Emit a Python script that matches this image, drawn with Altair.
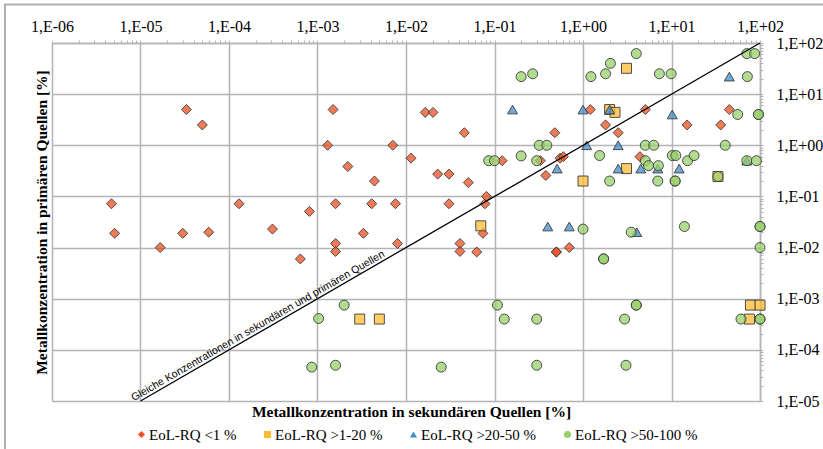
import altair as alt
import pandas as pd

cats = ["EoL-RQ <1 %", "EoL-RQ >1-20 %", "EoL-RQ >20-50 %", "EoL-RQ >50-100 %"]
cat_colors = ["#EE4F1F", "#FFBB33", "#408BCB", "#98D06B"]
cat_shapes = ["diamond", "square", "triangle-up", "circle"]

# EoL-RQ <1 %
dia_x = [4.7e-6, 5.1e-6, 1.67e-5, 3.0e-5, 3.3e-5, 5.0e-5, 5.9e-5, 1.3e-4, 3.1e-4, 6.4e-4,
         8.1e-4, 1.3e-3, 1.5e-3, 1.6e-3, 1.6e-3, 1.6e-3, 2.2e-3, 3.3e-3, 4.1e-3, 4.4e-3,
         7.1e-3, 7.6e-3, 8.0e-3, 0.0114, 0.0165, 0.0202, 0.0228, 0.0306, 0.0306, 0.0407,
         0.0407, 0.0456, 0.0506, 0.063, 0.074, 0.078, 0.081, 0.122, 0.33, 0.38,
         0.48, 0.55, 0.60, 0.50, 0.50, 0.70, 1.21, 1.8, 2.5, 4.4,
         5.06, 15.0, 36.0, 45.0]
dia_y = [0.072, 0.019, 0.010, 0.019, 5.0, 2.5, 0.020, 0.072, 0.023, 0.006,
         0.051, 1.0, 5.0, 0.072, 0.012, 0.0084, 0.385, 0.019, 0.072, 0.20,
         1.0, 0.072, 0.012, 0.56, 4.4, 4.4, 0.273, 0.273, 0.072, 0.012,
         0.0084, 1.76, 0.187, 0.0082, 0.019, 0.072, 0.10, 0.50, 0.50, 0.257,
         1.76, 0.56, 0.60, 0.0082, 0.0082, 0.010, 5.0, 2.5, 1.76, 0.60,
         5.0, 2.5, 2.5, 5.0]

# EoL-RQ >1-20 %
sq_x = [3.0e-3, 5.0e-3, 0.070, 1.0, 2.0, 2.3, 3.1, 3.1, 33.5, 76.0, 78.0, 100.0]
sq_y = [4.0e-4, 4.0e-4, 0.0266, 0.20, 5.0, 4.4, 32.0, 0.35, 0.245, 4.0e-4, 7.5e-4, 7.5e-4]

# EoL-RQ >20-50 %
tri_x = [0.16, 1.0, 2.0, 1.1, 2.5, 0.51, 2.5, 4.5, 7.0, 12.2, 10.2, 45.0, 71.0, 0.40, 0.70, 4.05]
tri_y = [5.0, 5.0, 5.0, 1.0, 1.0, 0.35, 0.35, 0.35, 0.35, 0.35, 4.0, 22.0, 0.5, 0.0258, 0.0258, 0.020]

# EoL-RQ >50-100 %
cir_x = [8.6e-4, 1.03e-3, 1.6e-3, 2.0e-3, 0.025, 0.086, 0.10, 0.108, 0.129, 0.20,
         0.20, 0.27, 0.30, 0.30, 0.30, 0.32, 0.39, 1.0, 1.23, 1.54,
         1.71, 1.71, 1.8, 2.04, 2.0, 2.95, 3.06, 3.5, 4.0, 4.0,
         4.0, 5.06, 6.3, 5.06, 5.5, 7.1, 7.3, 9.9, 7.0, 11.0,
         11.0, 10.2, 11.2, 14.0, 15.2, 18.0, 33.5, 40.5, 56.0, 61.0,
         71.0, 72.0, 71.0, 87.0, 91.0, 96.0, 96.0, 100.0, 100.0, 100.0,
         100.0, 100.0]
cir_y = [4.6e-5, 4.1e-4, 5.0e-5, 7.5e-4, 4.6e-5, 0.50, 0.50, 7.5e-4, 4.0e-4, 22.0,
         0.62, 25.0, 0.50, 4.0e-4, 5.0e-5, 1.0, 1.0, 0.023, 22.0, 0.63,
         0.006, 0.006, 25.0, 40.0, 0.2, 4.0e-4, 5.0e-5, 0.020, 62.0, 7.5e-4,
         7.5e-4, 1.0, 1.0, 0.5, 0.40, 0.40, 25.0, 25.0, 0.2, 0.2,
         0.2, 0.63, 0.63, 0.0258, 0.5, 0.63, 0.245, 1.0, 4.0, 4.0e-4,
         62.0, 22.0, 0.5, 62.0, 0.5, 4.0, 4.0, 0.0258, 0.0258, 0.010,
         4.0e-4, 4.0e-4]

rows = []
for c, xs, ys in zip(cats, [dia_x, sq_x, tri_x, cir_x], [dia_y, sq_y, tri_y, cir_y]):
    for xv, yv in zip(xs, ys):
        rows.append({"x": xv, "y": yv, "cat": c})
df = pd.DataFrame(rows)

line_df = pd.DataFrame({"x": [1e-5, 1e2], "y": [1e-5, 1e2]})
lab_df = pd.DataFrame({"x": [2.3e-4], "y": [2.3e-4],
                       "t": ["Gleiche Konzentrationen in sekundären und primären Quellen"]})

major_x = [10.0 ** e for e in range(-6, 3)]
major_y = [10.0 ** e for e in range(-5, 3)]
minor_x = [k * 10.0 ** e for e in range(-6, 2) for k in range(2, 10)]
minor_y = [k * 10.0 ** e for e in range(-5, 2) for k in range(2, 10)]

GRID = "#b4b4b4"
SERIF = "Liberation Serif"
lab_expr = "'1,E' + (datum.value >= 1 ? '+' : '-') + '0' + abs(round(log(datum.value) / LN10))"

xscale = alt.Scale(type="log", domain=[1e-6, 1e2], nice=False)
yscale = alt.Scale(type="log", domain=[1e-5, 1e2], nice=False)

legend = alt.Legend(title=None, orient="none", legendX=82, legendY=384, direction="horizontal",
                    gridAlign="none",
                    labelFont=SERIF, labelFontSize=15, labelColor="black", symbolSize=50,
                    symbolStrokeColor="#3c3c3c", symbolStrokeWidth=0.9, columnPadding=23,
                    labelOffset=0)

points = alt.Chart(df).mark_point(filled=False, size=100, stroke="#3c3c3c", strokeWidth=0.9,
                                  fillOpacity=0.75, opacity=1).encode(
    x=alt.X("x:Q", scale=xscale, title=None,
            axis=alt.Axis(orient="top", values=major_x, labelExpr=lab_expr, grid=True,
                          gridColor=GRID, gridWidth=1.5, domainColor=GRID, domainWidth=1.5,
                          tickColor=GRID, tickSize=3, labelFont=SERIF, labelFontSize=16,
                          labelColor="black", labelPadding=6, labelFlush=False)),
    y=alt.Y("y:Q", scale=yscale, title=None,
            axis=alt.Axis(orient="right", values=major_y, labelExpr=lab_expr, grid=True,
                          gridColor=GRID, gridWidth=1.5, domainColor=GRID, domainWidth=1.5,
                          tickColor=GRID, tickSize=3, labelFont=SERIF, labelFontSize=16,
                          labelColor="black", labelPadding=13, labelFlush=False)),
    fill=alt.Fill("cat:N", scale=alt.Scale(domain=cats, range=cat_colors), legend=legend),
    shape=alt.Shape("cat:N", scale=alt.Scale(domain=cats, range=cat_shapes), legend=legend),
)

line = alt.Chart(line_df).mark_line(color="black", strokeWidth=1.3).encode(
    x=alt.X("x:Q", scale=xscale,
            axis=alt.Axis(orient="bottom", labels=False, ticks=False, domain=False, grid=False,
                          title="Metallkonzentration in sekundären Quellen [%]",
                          titleFont=SERIF, titleFontSize=15.5, titleFontWeight="bold",
                          titleColor="black", titlePadding=3, titleX=359)),
    y=alt.Y("y:Q", scale=yscale,
            axis=alt.Axis(orient="left", labels=False, ticks=False, domain=False, grid=False,
                          title="Metallkonzentration in primären Quellen [%]",
                          titleFont=SERIF, titleFontSize=15.5, titleFontWeight="bold",
                          titleColor="black", titlePadding=3)),
)

text = alt.Chart(lab_df).mark_text(angle=330, font="Liberation Sans", fontSize=10.6, align="center",
                                   baseline="bottom", dy=-1, color="black").encode(
    x=alt.X("x:Q", scale=xscale, title=None,
            axis=alt.Axis(orient="top", values=minor_x, labels=False, grid=False, domain=False,
                          ticks=True, tickSize=3, tickColor=GRID, tickWidth=1)),
    y=alt.Y("y:Q", scale=yscale, title=None,
            axis=alt.Axis(orient="right", values=minor_y, labels=False, grid=False, domain=False,
                          ticks=True, tickSize=3, tickColor=GRID, tickWidth=1)),
    text="t:N",
)

frame = alt.Chart(pd.DataFrame({"a": [0]})).mark_rect(fillOpacity=0, stroke="#b0b0b0", strokeWidth=2).encode(
    x=alt.value(-47), x2=alt.value(820), y=alt.value(-38.5), y2=alt.value(520)
)

chart = alt.layer(points, line, text, frame).resolve_axis(
    x="independent", y="independent"
).properties(
    width=708, height=358,
    autosize=alt.AutoSizeParams(type="none"),
    padding={"left": 52, "top": 43, "right": 63, "bottom": 48},
    background="white",
).configure_view(strokeWidth=0)

chart.save("out.html", embed_options={"renderer": "svg", "actions": False})
